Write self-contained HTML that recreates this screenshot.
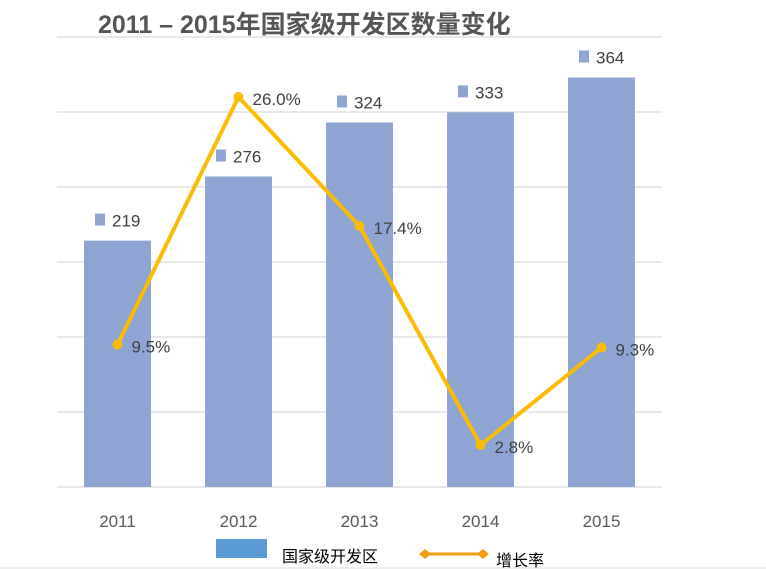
<!DOCTYPE html>
<html><head><meta charset="utf-8"><style>
body{margin:0;background:#fff;}
svg{display:block;font-family:"Liberation Sans","Noto Sans CJK SC",sans-serif;}
</style></head><body>
<svg id="chart" width="766" height="569" viewBox="0 0 766 569">
<text x="98" y="33" font-size="25" font-weight="bold" fill="#555">2011 – 2015年国家级开发区数量变化</text>
<g id="grid"></g><g id="bars"></g><g id="line"></g><g id="labels"></g>
<g>
<rect x="216" y="539" width="51" height="19" fill="#5b9bd5"/>
<text x="282" y="562" font-size="16" fill="#000">国家级开发区</text>
<line x1="425" y1="554" x2="483" y2="554" stroke="#f39c12" stroke-width="3"/>
<path d="M419 554 l6 -5 l6 5 l-6 5z M477 554 l6 -5 l6 5 l-6 5z" fill="#f39c12"/>
<text x="496" y="566" font-size="16" fill="#000">增长率</text>
</g>
<line x1="0" y1="568" x2="766" y2="568" stroke="#ddd"/>
</svg>
<script>
const categories=["2011","2012","2013","2014","2015"];
const counts=[219,276,324,333,364];
const growth=[9.5,26.0,17.4,2.8,9.3];
const countMax=400, growthMax=30;
const ns="http://www.w3.org/2000/svg";
const L=57,R=662,T=37,B=487;
const step=(R-L)/categories.length;
const xC=i=>L+step*(i+0.5);
const yB=v=>B-(v/countMax)*(B-T);
const yG=v=>B-(v/growthMax)*(B-T);
function mk(tag,attrs,parent,txt){const e=document.createElementNS(ns,tag);for(const k in attrs)e.setAttribute(k,attrs[k]);if(txt!==undefined)e.textContent=txt;document.getElementById(parent).appendChild(e);return e;}
for(let k=0;k<=6;k++){const y=T+(B-T)*k/6;
const g=mk('line',{x1:L,x2:R,y1:y,y2:y,stroke:'#d0d0d0'},'grid');

}
categories.forEach((c,i)=>{
const bw=67,x=xC(i)-bw/2,y=yB(counts[i]);
const b=mk('rect',{x:x,y:y,width:bw,height:B-y,fill:'#8ea5d3'},'bars');


const s=mk('rect',{x:x+11,y:y-27,width:10,height:12,fill:'#8ea5d3'},'labels');


const t=mk('text',{x:x+28,y:y-14,'font-size':17,fill:'#404040'},'labels',String(counts[i]));


const a=mk('text',{x:xC(i),y:527,'font-size':17,fill:'#595959','text-anchor':'middle'},'labels',c);


});
const pts=growth.map((v,i)=>xC(i)+','+yG(v)).join(' ');
const pl=mk('polyline',{points:pts,fill:'none',stroke:'#fbbc05','stroke-width':4,'stroke-linejoin':'round'},'line');


growth.forEach((v,i)=>{
const p=mk('circle',{cx:xC(i),cy:yG(v),r:5,fill:'#fbbc05'},'line');


const t=mk('text',{x:xC(i)+14,y:yG(v)+8,'font-size':17,fill:'#404040'},'labels',v.toFixed(1)+'%');


});
</script>
</body></html>
